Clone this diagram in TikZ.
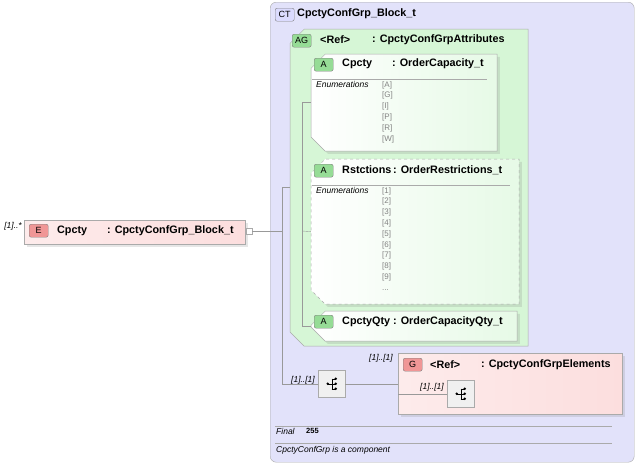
\documentclass[tikz,border=0pt]{standalone}
\usepackage{fontspec}
\setmainfont{Liberation Sans}
\usetikzlibrary{shapes.misc,shadows}
\definecolor{ctfill}{RGB}{226,226,250}
\definecolor{agfill}{RGB}{214,246,214}
\definecolor{efill}{RGB}{252,222,222}
\definecolor{badgeg}{RGB}{150,220,150}
\definecolor{badger}{RGB}{240,150,150}
\definecolor{edge}{RGB}{170,170,170}
\definecolor{enum}{RGB}{130,130,130}
\begin{document}
\begin{tikzpicture}[x=1pt,y=-1pt,font=\fontsize{10.8}{12}\selectfont\bfseries,
    every node/.style={inner sep=0pt},
    box/.style={draw=edge,anchor=north west,minimum width=#1},
    ctbox/.style={box=364pt,minimum height=460pt,rounded corners=6pt,fill=ctfill},
    chamf/.style={box=#1,chamfered rectangle,chamfered rectangle xsep=7pt,chamfered rectangle ysep=7pt,
        inner sep=8pt,xshift=8pt,yshift=-8pt,chamfered rectangle corners={north west,south west}},
    agbox/.style={chamf=238pt,minimum height=317pt,fill=agfill},
    abox/.style={chamf=#1,left color=white,right color=agfill!60,drop shadow={opacity=0.2}},
    ebox/.style={box=#1,left color=efill!60,right color=efill},
    badge/.style={draw=gray,rounded corners=2pt,minimum width=19pt,minimum height=13pt,font=\fontsize{9}{10}\selectfont,anchor=north west},
    seq/.style={draw=edge,fill=gray!12,minimum size=27pt,anchor=north west},
    mult/.style={font=\fontsize{8.5}{9}\selectfont\itshape\mdseries},
    small/.style={font=\fontsize{8.5}{10}\selectfont\itshape\mdseries,anchor=north west},
    vals/.style={font=\fontsize{8}{10.8}\selectfont\mdseries,text=enum,align=left,anchor=north west},
    wire/.style={draw=gray!80,thin}]
  \useasboundingbox (0,0) rectangle (636,464);

  % complex type
  \node[ctbox] (ct) at (270,2) {};
  \node[badge,fill=ctfill!60!blue!30] (ctb) at (275,8) {CT};
  \node[anchor=west] at (297,14) {CpctyConfGrp\_Block\_t};

  % attribute group
  \node[agbox] (ag) at (289,28) {};
  \node[badge,fill=badgeg] (agb) at (292,34) {AG};
  \node[anchor=west] at (320,40) {<Ref>};
  \node[anchor=west] at (372,40) {: CpctyConfGrpAttributes};

  \node[abox=186pt,minimum height=97pt] (a1) at (310,53) {};
  \node[badge,fill=badgeg] at (314,58) {A};
  \node[anchor=west] at (342,64) {Cpcty};
  \node[anchor=west] at (392,64) {: OrderCapacity\_t};
  \draw[edge] (312,79) -- (487,79);
  \node[small] at (316,81) {Enumerations};
  \node[vals] at (382,81) {{[A]}\\ {[G]}\\ {[I]}\\ {[P]}\\ {[R]}\\ {[W]}};

  \node[abox=208pt,minimum height=145pt,dashed] (a2) at (310,158) {};
  \node[badge,fill=badgeg] at (314,164) {A};
  \node[anchor=west] at (342,170) {Rstctions};
  \node[anchor=west] at (393,170) {: OrderRestrictions\_t};
  \draw[edge] (312,185) -- (510,185);
  \node[small] at (316,187) {Enumerations};
  \node[vals] at (382,187) {{[1]}\\ {[2]}\\ {[3]}\\ {[4]}\\ {[5]}\\ {[6]}\\ {[7]}\\ {[8]}\\ {[9]}\\ ...};

  \node[abox=206pt,minimum height=23pt] (a3) at (310,310) {};
  \node[badge,fill=badgeg] at (314,315) {A};
  \node[anchor=west] at (342,322) {CpctyQty};
  \node[anchor=west] at (393,322) {: OrderCapacityQty\_t};

  % element
  \node[mult,anchor=east] at (22,226) {[1]..*};
  \node[ebox=221pt,minimum height=24pt,drop shadow={opacity=0.2}] (el) at (24,220) {};
  \node[badge,fill=badger] at (29,224) {E};
  \node[anchor=west] at (57,231) {Cpcty};
  \node[anchor=west] at (107,231) {: CpctyConfGrp\_Block\_t};
  \node[draw=edge,minimum size=6pt,fill=white] (exp) at (249,231) {};

  % sequences and group
  \node[seq] (s1) at (318,370) {};
  \node[mult,anchor=south east] at (315,384) {[1]..[1]};
  \node[ebox=224pt,minimum height=61pt,drop shadow={opacity=0.2}] (g) at (398,353) {};
  \node[mult,anchor=south east] at (393,362) {[1]..[1]};
  \node[badge,fill=badger] at (403,358) {G};
  \node[anchor=west] at (430,365) {<Ref>};
  \node[anchor=west] at (481,365) {: CpctyConfGrpElements};
  \node[seq] (s2) at (447,380) {};
  \node[mult,anchor=south east] at (444,391) {[1]..[1]};
  \foreach \s in {s1,s2}{
    \fill (\s.center) ++(-4,0) circle (1.4pt);
    \draw (\s.center) ++(-4,0) -- ++(4,0);
    \draw (\s.center) ++(0,-5) -- ++(0,10);
    \foreach \dy in {-5,0,5} \fill (\s.center) ++(4,\dy) circle (1.4pt);
    \foreach \dy in {-5,0,5} \draw (\s.center) ++(0,\dy) -- ++(4,0);
  }

  % connectors
  \coordinate (j1) at (282,231);
  \coordinate (j2) at (302,231);
  \draw[wire] (exp.east) -- (j1);
  \draw[wire] (j1 |- ag.west) -- (j1 |- s1.west) -- (s1.west);
  \draw[wire] (j1 |- ag.west) -- (ag.west);
  \draw[wire] (j2 |- a1.west) -- (j2 |- a3.west);
  \draw[wire] (j2 |- a1.west) -- (a1.west);
  \draw[wire] (j2) -- (a2.west);
  \draw[wire] (j2 |- a3.west) -- (a3.west);
  \draw[wire] (s1.east) -- (s1.east -| g.west);
  \draw[wire] (g.west |- s2.west) -- (s2.west);

  % footer
  \draw[edge] (275,426) -- (612,426);
  \node[small] at (276,428) {Final};
  \node[anchor=north west,font=\fontsize{7.5}{9}\selectfont\bfseries] at (306,428) {255};
  \draw[edge] (275,443) -- (612,443);
  \node[small] at (276,446) {CpctyConfGrp is a component};
\end{tikzpicture}
\end{document}
